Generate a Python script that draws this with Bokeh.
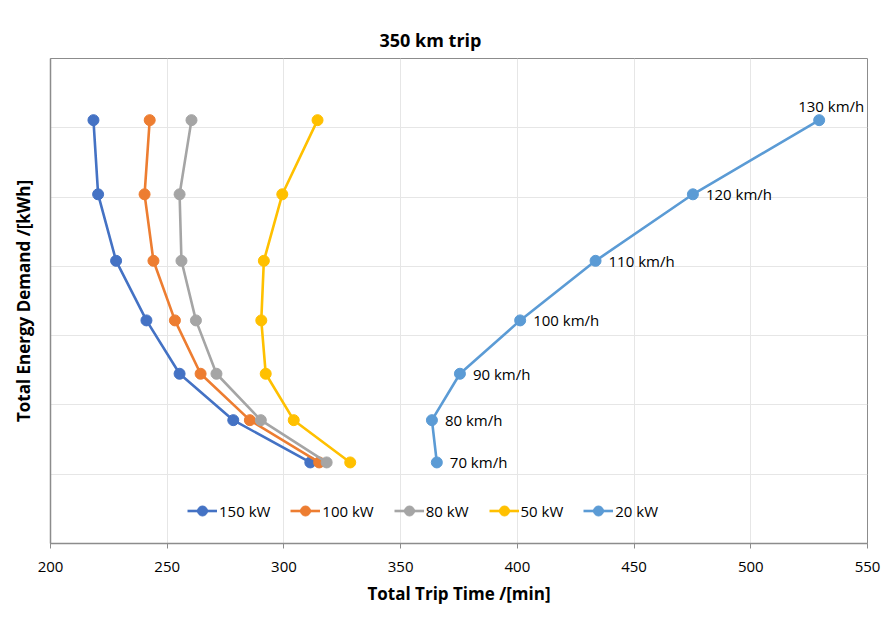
from bokeh.plotting import figure
from bokeh.models import ColumnDataSource, LabelSet, Legend, LegendItem, FixedTicker, Title, Range1d
from bokeh.core.properties import value
from bokeh.embed import file_html
from bokeh.resources import INLINE

speeds = ["70 km/h", "80 km/h", "90 km/h", "100 km/h", "110 km/h", "120 km/h", "130 km/h"]
energy = [51.7, 57.8, 64.5, 72.2, 80.8, 90.4, 101.1]

series_names = ["150 kW", "100 kW", "80 kW", "50 kW", "20 kW"]
time_150 = [311.3, 278.3, 255.3, 241.1, 228.1, 220.4, 218.4]
time_100 = [315.1, 285.4, 264.3, 253.3, 244.1, 240.3, 242.5]
time_80 = [318.3, 290.1, 271.1, 262.3, 256.1, 255.3, 260.4]
time_50 = [328.4, 304.2, 292.2, 290.3, 291.4, 299.3, 314.4]
time_20 = [365.5, 363.4, 375.4, 401.2, 433.5, 475.2, 529.3]
colors = ["#4472C4", "#ED7D31", "#A5A5A5", "#FFC000", "#5B9BD5"]

x_ticks = [200, 250, 300, 350, 400, 450, 500, 550]
y_ticks = [40, 50, 60, 70, 80, 90, 100, 110]

FONT = "Open Sans"

p = figure(frame_width=817, frame_height=485, output_backend="svg", toolbar_location=None,
           x_range=Range1d(200, 550), y_range=Range1d(40, 110),
           min_border_left=50, min_border_right=17, min_border_top=58, min_border_bottom=0)
p.background_fill_color = "white"
p.border_fill_color = "white"
p.outline_line_color = "#8C8C8C"
p.outline_line_width = 1

p.title = Title(text="350 km trip", align="left", offset=329, text_font=FONT,
                text_font_size="18px", text_font_style="bold", text_color="#000000",
                standoff=14)

p.xaxis.ticker = FixedTicker(ticks=x_ticks)
p.yaxis.ticker = FixedTicker(ticks=y_ticks)
p.xgrid.grid_line_color = "#E6E6E6"
p.ygrid.grid_line_color = "#E6E6E6"
p.xgrid.grid_line_width = 1
p.ygrid.grid_line_width = 1

for ax in (p.xaxis[0], p.yaxis[0]):
    ax.axis_line_color = "#8C8C8C"
    ax.axis_line_width = 1.5
    ax.minor_tick_line_color = None
    ax.axis_label_text_font = FONT
    ax.axis_label_text_font_size = "17px"
    ax.axis_label_text_font_style = "bold"
    ax.axis_label_text_color = "#000000"
    ax.major_label_text_font = FONT
    ax.major_label_text_font_size = "15px"
    ax.major_label_text_color = "#000000"

p.xaxis.axis_label = "Total Trip Time /[min]"
p.xaxis.major_tick_line_color = "#8C8C8C"
p.xaxis.major_tick_out = 5
p.xaxis.major_tick_in = 0
p.xaxis.major_label_standoff = 13
p.xaxis.axis_label_standoff = 7

p.yaxis.axis_label = "Total Energy Demand /[kWh]"
p.yaxis.major_tick_line_color = None
p.yaxis.major_label_text_font_size = "0px"
p.yaxis.major_label_standoff = 0
p.yaxis.axis_label_standoff = 10

all_times = [time_150, time_100, time_80, time_50, time_20]
items = []
for name, t, c in zip(series_names, all_times, colors):
    src = ColumnDataSource(dict(x=t, y=energy, label=speeds))
    ln = p.line("x", "y", source=src, line_color=c, line_width=2.6)
    sc = p.scatter("x", "y", source=src, size=11, fill_color=c, line_color=c)
    items.append(LegendItem(label=name, renderers=[ln, sc]))

legend = Legend(items=items, orientation="horizontal", location=(137, 20),
                label_text_font=FONT, label_text_font_size="15px", label_text_color="#000000",
                glyph_width=30, glyph_height=25, label_standoff=2, spacing=20,
                background_fill_alpha=0, border_line_color=None, padding=4, margin=0)
p.add_layout(legend)

# data labels for 20 kW series
lab_src_right = ColumnDataSource(dict(x=time_20[:-1], y=energy[:-1], label=speeds[:-1]))
p.add_layout(LabelSet(x="x", y="y", text="label", source=lab_src_right, x_offset=13, y_offset=0,
                      text_baseline="middle", text_align="left", text_font=value(FONT),
                      text_font_size="15px", text_color="#000000"))
lab_src_top = ColumnDataSource(dict(x=time_20[-1:], y=energy[-1:], label=speeds[-1:]))
p.add_layout(LabelSet(x="x", y="y", text="label", source=lab_src_top, x_offset=12, y_offset=14,
                      text_baseline="middle", text_align="center", text_font=value(FONT),
                      text_font_size="15px", text_color="#000000"))

open("out.html", "w").write(file_html(p, INLINE))
